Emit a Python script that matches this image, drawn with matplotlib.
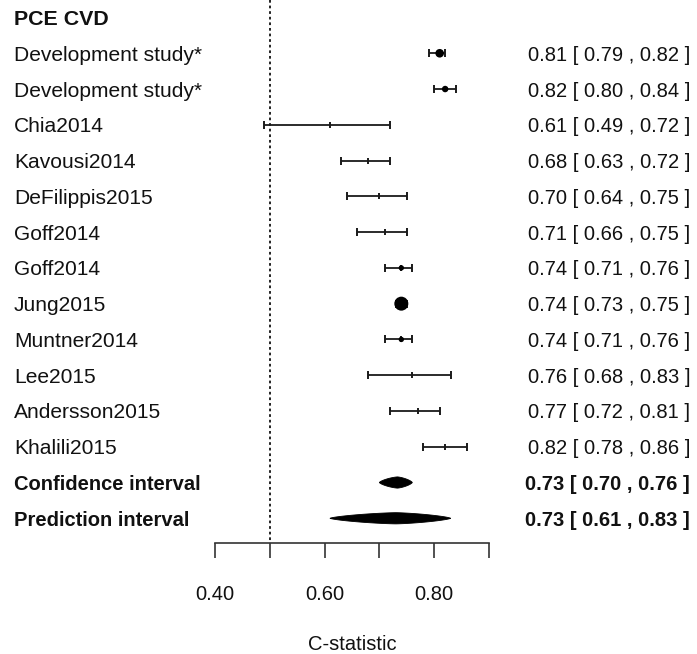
import numpy as np
import matplotlib
matplotlib.use("Agg")
import matplotlib.pyplot as plt
from matplotlib.transforms import offset_copy

plt.rcParams['font.family'] = ['Liberation Sans', 'DejaVu Sans']

# ---------------- data ----------------
title = "PCE CVD"
studies = ["Development study*", "Development study*", "Chia2014", "Kavousi2014",
           "DeFilippis2015", "Goff2014", "Goff2014", "Jung2015", "Muntner2014",
           "Lee2015", "Andersson2015", "Khalili2015"]
est = [0.81, 0.82, 0.61, 0.68, 0.70, 0.71, 0.74, 0.74, 0.74, 0.76, 0.77, 0.82]
lower = [0.79, 0.80, 0.49, 0.63, 0.64, 0.66, 0.71, 0.73, 0.71, 0.68, 0.72, 0.78]
upper = [0.82, 0.84, 0.72, 0.72, 0.75, 0.75, 0.76, 0.75, 0.76, 0.83, 0.81, 0.86]
weights = [17.3, 9.8, 1.7, 1.7, 1.7, 1.7, 6.8, 45.8, 6.8, 1.7, 1.7, 1.7]  # relative study weight (%)

summary_labels = ["Confidence interval", "Prediction interval"]
summary_est = [0.733, 0.73]
summary_lower = [0.70, 0.61]
summary_upper = [0.76, 0.83]
summary_text = ["0.73 [ 0.70 , 0.76 ]", "0.73 [ 0.61 , 0.83 ]"]

ref_value = 0.50
xticks = [0.40, 0.50, 0.60, 0.70, 0.80, 0.90]
xticklabels = ["0.40", "", "0.60", "", "0.80", ""]
xlabel = "C-statistic"

# ---------------- layout ----------------
W, H = 697, 654
fig = plt.figure(figsize=(W / 100, H / 100), dpi=100)
ax = fig.add_axes([0, 0, 1, 1])

px_per_unit = 548.0          # pixels per 1.0 of C-statistic
x0_px = 215.0                # pixel of 0.40
row_px = 35.77               # row spacing in pixels
row0_px = 17.5               # pixel of title row
ax.set_xlim(0.40 - x0_px / px_per_unit, 0.40 + (W - x0_px) / px_per_unit)
ax.set_ylim((H - row0_px) / row_px, -row0_px / row_px)

txt_color = "#111111"
line_color = "#1a1a1a"
fs = 14.5
fs_lab = 15.1
fs_title = 15.4

n = len(studies)
rows = np.arange(1, n + 1)
srows = np.arange(n + 1, n + 1 + len(summary_labels))
axis_row = (542.7 - row0_px) / row_px

# reference dotted line
ax.plot([ref_value, ref_value], [-row0_px / row_px, axis_row], color="#111111",
        lw=1.3, linestyle=(0, (1.5, 1.6)), solid_capstyle='butt')

# study CIs
e = np.array(est)
ax.errorbar(e, rows, xerr=[e - np.array(lower), np.array(upper) - e], fmt='|',
            color=line_color, markersize=4.0, markeredgewidth=1.4,
            ecolor=line_color, elinewidth=1.3, capsize=2.8, capthick=1.4, zorder=3)
w = np.array(weights)
diam_px = 14.0 * np.sqrt(w / w.max())
big = w > 5
ax.scatter(e[big], rows[big], s=(diam_px[big] * 0.72) ** 2, color="black", zorder=4,
           linewidths=0)

# summary polygons (rounded diamonds)
half_h = 5.6 / row_px
t = np.linspace(0, 2 * np.pi, 200)
p = 1.4
cx = np.sign(np.cos(t)) * np.abs(np.cos(t)) ** (2 / p)
cy = np.sign(np.sin(t)) * np.abs(np.sin(t)) ** (2 / p)
for r, m, lo, hi in zip(srows, summary_est, summary_lower, summary_upper):
    xs = np.where(cx >= 0, m + cx * (hi - m), m + cx * (m - lo))
    ys = r + cy * half_h
    ax.fill(xs, ys, color="black", lw=0.6, zorder=4)

# texts
blend = offset_copy(ax.get_yaxis_transform(), fig=fig, y=-2, units='dots')
ax.text(14 / W, 0, title, transform=blend, ha='left', va='center', fontsize=fs_title,
        fontweight='bold', color=txt_color)
for r, lab, m, lo, hi in zip(rows, studies, est, lower, upper):
    ax.text(14 / W, r, lab, transform=blend, ha='left', va='center', fontsize=fs_lab,
            color=txt_color)
    ax.text(690 / W, r, f"{m:.2f} [ {lo:.2f} , {hi:.2f} ]", transform=blend,
            ha='right', va='center', fontsize=fs, color=txt_color)
for r, lab, tx in zip(srows, summary_labels, summary_text):
    ax.text(14 / W, r, lab, transform=blend, ha='left', va='center', fontsize=fs,
            fontweight='bold', color=txt_color)
    ax.text(690 / W, r, tx, transform=blend, ha='right', va='center', fontsize=fs,
            fontweight='bold', color=txt_color)

# x axis
for s in ['top', 'left', 'right']:
    ax.spines[s].set_visible(False)
ax.spines['bottom'].set_position(('data', axis_row))
ax.spines['bottom'].set_bounds(xticks[0], xticks[-1])
ax.spines['bottom'].set_linewidth(1.2)
ax.spines['bottom'].set_color("#333333")
ax.set_xticks(xticks)
ax.set_xticklabels(xticklabels)
ax.tick_params(axis='x', direction='out', length=10.8, width=1.2, color="#333333",
               labelsize=fs, labelcolor=txt_color, pad=19.5)
ax.set_yticks([])
ax.text(np.mean([xticks[0], xticks[-1]]), (645 - row0_px) / row_px, xlabel,
        ha='center', va='center', fontsize=fs, color=txt_color)

fig.savefig("out.png", dpi=100, facecolor="white")
